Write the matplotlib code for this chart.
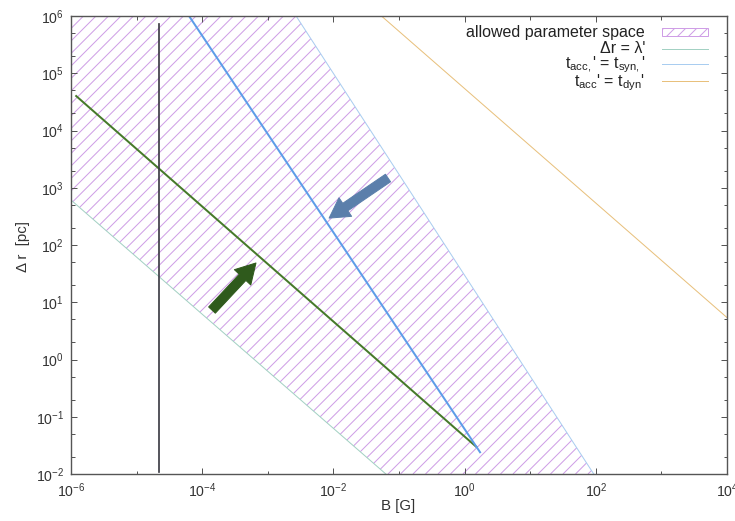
import numpy as np
import matplotlib
matplotlib.use("Agg")
import matplotlib.pyplot as plt
from matplotlib.patches import Rectangle, Polygon
from matplotlib.collections import LineCollection
from matplotlib.ticker import LogLocator, FixedLocator, NullFormatter

HATCH = "#cf9ee6"
plt.rcParams["font.family"] = ["Liberation Sans", "DejaVu Sans"]
plt.rcParams["mathtext.fontset"] = "custom"
plt.rcParams["mathtext.rm"] = "Liberation Sans"
plt.rcParams["mathtext.it"] = "Liberation Sans:italic"
plt.rcParams["axes.unicode_minus"] = False

# ── curves (B in G, Δr in pc) ─────────────────────────────────────────────────
lam_B = [1e-6, 0.063]          # Δr = λ'  (lower bound of allowed region)
lam_r = [6.1e2, 1e-2]
syn_B = [2.7e-3, 93.0]         # t_acc' = t_syn'  (upper bound)
syn_r = [1e6, 1e-2]
dyn_B = [5.4e-2, 1e4]          # t_acc = t_dyn
dyn_r = [1e6, 5.4]
green_B = [1.2e-6, 1.5]
green_r = [4.0e4, 3.0e-2]
blue_B = [6.3e-5, 1.72]
blue_r = [1e6, 2.4e-2]
vline_B = 2.2e-5
vline_r = [1.1e-2, 7.2e5]

# arrows: (tail, tip)
green_arrow = ((1.41e-4, 7.3), (6.6e-4, 48.5))
blue_arrow = ((0.068, 1480.0), (8.6e-3, 295.0))

labels = ["allowed parameter space",
          "\u0394r = \u03bb'",
          r"t$_\mathregular{acc,}$' = t$_\mathregular{syn,}$'",
          r"t$_\mathregular{acc}$' = t$_\mathregular{dyn}$'"]

C_LAM = "#a3d1c3"
C_SYN = "#a9cdf0"
C_DYN = "#e8c07c"
SPINE = "#555555"

DPI = 72
AX_W, AX_H = 656, 458            # axes size in pixels
fig = plt.figure(figsize=(735 / DPI, 521 / DPI), dpi=DPI)
ax = fig.add_axes([71 / 735, 1 - 474 / 521, AX_W / 735, AX_H / 521])
ax.set_xscale("log")
ax.set_yscale("log")
ax.set_xlim(1e-6, 1e4)
ax.set_ylim(1e-2, 1e6)


def hatch(ax, clip, step=12.5, **kw):
    """45-degree hatch lines over the whole axes, clipped to a patch."""
    starts = np.arange(-AX_H, AX_W, step)
    segs = [[(s / AX_W, 0), ((s + AX_H) / AX_W, 1)] for s in starts]
    lc = LineCollection(segs, transform=ax.transAxes, colors=HATCH, linewidths=1.0, **kw)
    ax.add_collection(lc)
    lc.set_clip_path(clip)


# allowed region: top-left corner, down along t_syn bound, back up along λ' bound
poly_B = [1e-6] + syn_B + lam_B[::-1]
poly_r = [1e6] + syn_r + lam_r[::-1]
region = Polygon(np.column_stack([poly_B, poly_r]), closed=True,
                 facecolor="none", edgecolor="none")
ax.add_patch(region)
hatch(ax, region, zorder=1)

ax.plot(lam_B, lam_r, color=C_LAM, lw=1.0, zorder=2)
ax.plot(syn_B, syn_r, color=C_SYN, lw=1.0, zorder=2)
ax.plot(dyn_B, dyn_r, color=C_DYN, lw=1.0, zorder=2)
ax.plot(green_B, green_r, color="#467a2a", lw=2.0, zorder=3)
ax.plot(blue_B, blue_r, color="#5d9de8", lw=2.0, zorder=3)
ax.plot([vline_B, vline_B], vline_r, color="#3c3c44", lw=1.7, zorder=3)

for (tail, tip), col in [(green_arrow, "#2f5a1c"), (blue_arrow, "#5b7fab")]:
    ax.annotate("", xy=tip, xytext=tail, zorder=4,
                arrowprops=dict(arrowstyle="simple,head_length=1.4,head_width=1.6,tail_width=0.65",
                                color=col, shrinkA=0, shrinkB=0, mutation_scale=14))

# ── gnuplot-style key (text right-aligned, sample on the right) ───────────────
row_y = [0.965, 0.9286, 0.8945, 0.858]
txt_y = [0.9535, 0.9185, 0.8854, 0.847]
x_txt, x0, x1 = 0.875, 0.901, 0.971
for lab, yt in zip(labels, txt_y):
    ax.text(x_txt, yt, lab, transform=ax.transAxes, ha="right", va="baseline",
            fontsize=16, color="#222222")
key_box = Rectangle((x0, row_y[0] - 0.009), x1 - x0, 0.018, transform=ax.transAxes,
                    facecolor="white", edgecolor=HATCH, lw=1.0, zorder=5)
ax.add_patch(key_box)
hatch(ax, key_box, step=11, zorder=6)
for yl, col in zip(row_y[1:], [C_LAM, C_SYN, C_DYN]):
    ax.plot([x0, x1], [yl, yl], color=col, lw=1.0, transform=ax.transAxes)

# ── axes styling ──────────────────────────────────────────────────────────────
ax.xaxis.set_major_locator(FixedLocator(10.0 ** np.arange(-6, 5, 2)))
ax.xaxis.set_minor_locator(FixedLocator(10.0 ** np.arange(-5, 4, 2)))
ax.xaxis.set_minor_formatter(NullFormatter())
ax.yaxis.set_major_locator(LogLocator(base=10, numticks=20))
ax.yaxis.set_minor_locator(LogLocator(base=10, subs=(2.0, 5.0), numticks=20))
ax.yaxis.set_minor_formatter(NullFormatter())

ax.tick_params(which="both", direction="in", top=True, right=True,
               color=SPINE, width=1.0, labelsize=14, labelcolor="#333333")
ax.tick_params(which="major", length=6)
ax.tick_params(which="minor", length=3.5)
ax.tick_params(axis="x", pad=7)
ax.tick_params(axis="y", pad=7)
for s in ax.spines.values():
    s.set_color(SPINE)
    s.set_linewidth(1.4)
    s.set_zorder(6)

ax.set_xlabel("B [G]", fontsize=15, color="#333333")
ax.set_ylabel("\u0394 r  [pc]", fontsize=15, color="#333333")
ax.xaxis.set_label_coords(0.5 + (398 - 399) / 656, -(506 - 474) / 458)
ax.yaxis.set_label_coords(-(71 - 23) / 656, 1 - (247 - 16) / 458)
ax.xaxis.label.set_va("center")
ax.yaxis.label.set_va("center")

fig.savefig("out.png", dpi=DPI)
plt.close(fig)
